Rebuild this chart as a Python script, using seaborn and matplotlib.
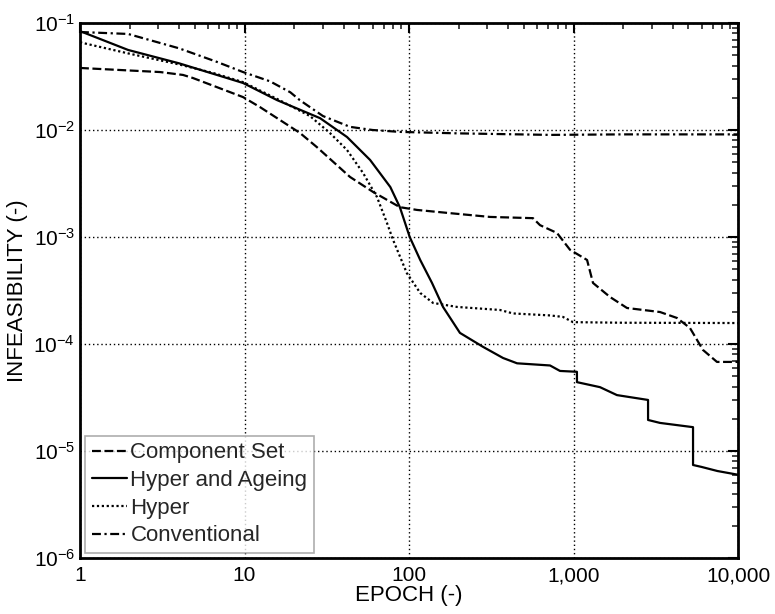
import numpy as np
import pandas as pd
import seaborn as sns
import matplotlib
matplotlib.use("Agg")
import matplotlib.pyplot as plt
from matplotlib.ticker import FixedLocator, FixedFormatter, LogLocator, NullFormatter

# ---- data ----
conv_x = [1, 1.96, 4.0, 6.8, 9.8, 14.3, 19, 21.7, 30, 43.8, 60, 88, 200, 720, 2000, 10000]
conv_y = [0.0824, 0.079, 0.058, 0.0433, 0.0348, 0.0285, 0.0225, 0.019, 0.0135, 0.0107, 0.0100, 0.0096, 0.0093, 0.0090, 0.0091, 0.0091]

ha_x = [1, 1.96, 4.0, 6.8, 9.8, 15.8, 28.8, 42, 58, 77, 88, 101, 117, 138, 161, 204, 282, 373, 454, 720, 828, 1049,
        1050, 1449, 1837, 2839, 2840, 3357, 5329, 5330, 6000, 7500, 10000]
ha_y = [0.084, 0.056, 0.042, 0.0327, 0.0275, 0.019, 0.0129, 0.0086, 0.00525, 0.00293, 0.0019, 0.0010, 0.00061, 0.000372,
        0.000222, 0.000127, 9.4e-5, 7.4e-5, 6.6e-5, 6.3e-5, 5.6e-5, 5.5e-5,
        4.4e-5, 3.95e-5, 3.33e-5, 3.0e-5, 1.95e-5, 1.83e-5, 1.67e-5, 7.4e-6, 7.1e-6, 6.5e-6, 6.0e-6]

hy_x = [1, 1.96, 4.0, 6.5, 9.8, 15.8, 25, 33, 42, 52.6, 63.9, 73.5, 80, 97, 117, 140, 196, 357, 429, 720, 863, 993, 2000, 10000]
hy_y = [0.066, 0.052, 0.041, 0.034, 0.028, 0.0195, 0.0135, 0.0094, 0.0065, 0.00396, 0.00236, 0.00135, 0.00094, 0.00046,
        0.0003, 0.000242, 0.000222, 0.000208, 0.000193, 0.000185, 0.000179, 0.000160, 0.000158, 0.000157]

cs_x = [1, 3.07, 4.23, 4.86, 9.8, 12.4, 21.7, 27.6, 43.8, 60.4, 88, 112, 178, 311, 567, 626, 794, 952, 1209, 1314,
        1667, 2115, 3357, 4260, 5106, 6124, 7450, 10000]
cs_y = [0.038, 0.0348, 0.0327, 0.0306, 0.0203, 0.0164, 0.0094, 0.0069, 0.00364, 0.00264, 0.0019, 0.00179, 0.00167,
        0.00154, 0.0015, 0.00129, 0.00109, 0.00076, 0.00061, 0.000372, 0.000275, 0.000217, 0.000199, 0.000175,
        0.000141, 8.8e-5, 6.8e-5, 6.8e-5]

series_names = ["Component Set", "Hyper and Ageing", "Hyper", "Conventional"]
x_ticks = [1, 10, 100, 1000, 10000]
x_tick_labels = ["1", "10", "100", "1,000", "10,000"]
y_ticks = [1e-6, 1e-5, 1e-4, 1e-3, 1e-2, 1e-1]
y_tick_labels = [r"$10^{-6}$", r"$10^{-5}$", r"$10^{-4}$", r"$10^{-3}$", r"$10^{-2}$", r"$10^{-1}$"]

frames = []
for name, xs, ys in zip(series_names, [cs_x, ha_x, hy_x, conv_x], [cs_y, ha_y, hy_y, conv_y]):
    frames.append(pd.DataFrame({"epoch": xs, "inf": ys, "series": name}))
df = pd.concat(frames, ignore_index=True)

sns.set_theme(style="white")
plt.rcParams["font.family"] = ["Liberation Sans", "DejaVu Sans"]
plt.rcParams["mathtext.default"] = "regular"

fig = plt.figure(figsize=(7.75, 6.14), dpi=100)
ax = fig.add_axes([80 / 775, 1 - 558 / 614, (738 - 80) / 775, (558 - 23) / 614])

dashes = {
    "Component Set": (4, 1.6),
    "Hyper and Ageing": "",
    "Hyper": (1, 1.2),
    "Conventional": (4, 1.6, 1, 1.6),
}
sns.lineplot(data=df, x="epoch", y="inf", style="series", style_order=series_names,
             dashes=dashes, color="black", linewidth=1.6, estimator=None, sort=False,
             ax=ax, legend=True)

ax.set_xscale("log")
ax.set_yscale("log")
ax.set_xlim(1, 10000)
ax.set_ylim(1e-6, 1e-1)

ax.xaxis.set_major_locator(FixedLocator(x_ticks))
ax.xaxis.set_major_formatter(FixedFormatter(x_tick_labels))
ax.yaxis.set_major_locator(FixedLocator(y_ticks))
ax.yaxis.set_major_formatter(FixedFormatter(y_tick_labels))
ax.xaxis.set_minor_locator(LogLocator(base=10, subs=np.arange(2, 10)))
ax.yaxis.set_minor_locator(LogLocator(base=10, subs=np.arange(2, 10)))
ax.xaxis.set_minor_formatter(NullFormatter())
ax.yaxis.set_minor_formatter(NullFormatter())

ax.tick_params(which="major", direction="in", length=7, width=1.5, top=True, right=True,
               labelsize=15, colors="black")
ax.tick_params(which="minor", direction="in", length=4, width=1.2, top=True, right=True)
ax.tick_params(axis="x", which="major", pad=6)

for s in ax.spines.values():
    s.set_linewidth(2)
    s.set_color("black")

ax.grid(True, which="major", color="black", linestyle=(0, (1, 2)), linewidth=1)

ax.set_xlabel("EPOCH (-)", fontsize=16, color="black", labelpad=0)
ax.set_ylabel("INFEASIBILITY (-)", fontsize=16, color="black", labelpad=4)

leg = ax.legend(loc="lower left", fontsize=16, frameon=True, fancybox=False,
                handlelength=1.6, handletextpad=0.15, borderpad=0.3, labelspacing=0.3,
                borderaxespad=0.22)
leg.get_frame().set_edgecolor("#999999")
leg.get_frame().set_linewidth(1.2)
for line in leg.get_lines():
    line.set_linewidth(1.6)
    line.set_color("black")

fig.savefig("out.png", dpi=100)
